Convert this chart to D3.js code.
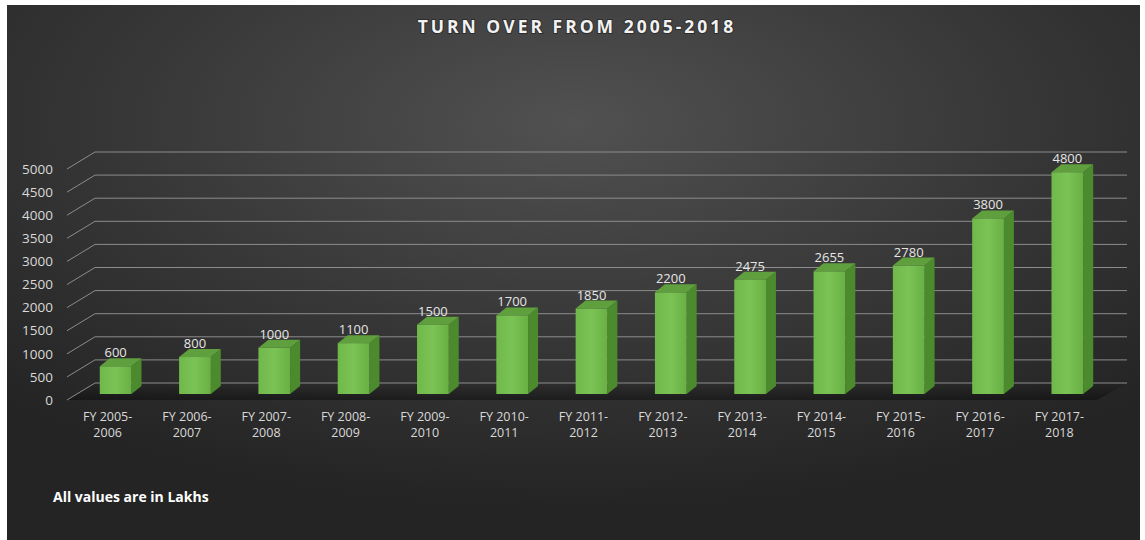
<!DOCTYPE html>
<html>
<head>
<meta charset="utf-8">
<script src="https://cdn.jsdelivr.net/npm/d3@7"></script>
<style>
  html, body { margin: 0; padding: 0; background: #ffffff; }
  svg { display: block; }
</style>
</head>
<body>
<script>
// chart data
var categories = ['FY 2005-2006', 'FY 2006-2007', 'FY 2007-2008', 'FY 2008-2009', 'FY 2009-2010',
    'FY 2010-2011', 'FY 2011-2012', 'FY 2012-2013', 'FY 2013-2014', 'FY 2014-2015',
    'FY 2015-2016', 'FY 2016-2017', 'FY 2017-2018'];
var turnover = [600, 800, 1000, 1100, 1500, 1700, 1850, 2200, 2475, 2655, 2780, 3800, 4800];
var yTicks = [0, 500, 1000, 1500, 2000, 2500, 3000, 3500, 4000, 4500, 5000];

var svgW = 1145, svgH = 540;
var font = "'Open Sans', 'DejaVu Sans', sans-serif";

//3d offsets (bar depth and back wall)
var depth = {dx: 10, dy: -8};
var wall = {dx: 28, dy: -17};

var svg = d3.select('body')
    .append('svg')
    .attr('width', svgW)
    .attr('height', svgH);

var defs = svg.append('defs');

var bg = defs.append('radialGradient')
    .attr('id', 'bg')
    .attr('cx', '50%').attr('cy', '22%').attr('r', '72%')
    .attr('fx', '50%').attr('fy', '22%');
bg.append('stop').attr('offset', '0%').attr('stop-color', '#515151');
bg.append('stop').attr('offset', '55%').attr('stop-color', '#373737');
bg.append('stop').attr('offset', '100%').attr('stop-color', '#242424');

var front = defs.append('linearGradient')
    .attr('id', 'front')
    .attr('x1', 0).attr('y1', 0).attr('x2', 1).attr('y2', 0);
front.append('stop').attr('offset', '0%').attr('stop-color', '#6fb84a');
front.append('stop').attr('offset', '50%').attr('stop-color', '#7cc356');
front.append('stop').attr('offset', '100%').attr('stop-color', '#68b043');

var floorShade = defs.append('linearGradient')
    .attr('id', 'floorShade')
    .attr('x1', 0).attr('y1', 0).attr('x2', 0).attr('y2', 1);
floorShade.append('stop').attr('offset', '0%').attr('stop-color', '#000').attr('stop-opacity', 0.05);
floorShade.append('stop').attr('offset', '100%').attr('stop-color', '#000').attr('stop-opacity', 0.4);

//background panel
svg.append('rect')
    .attr('x', 7)
    .attr('y', 5)
    .attr('width', 1133)
    .attr('height', 535)
    .style('fill', 'url(#bg)');

//scales
var x = d3.scaleBand()
    .domain(categories)
    .range([76, 1107])
    .paddingInner(0.6)
    .paddingOuter(0.3);

var y = d3.scaleLinear()
    .domain([0, 5000])
    .range([394, 163]);

var backLeft = 95, backRight = 1127;
var floorY = y(0);

//floor shadow
svg.append('polygon')
    .attr('points', [
        [backLeft - wall.dx, floorY + 6], [backLeft, floorY + wall.dy + 6],
        [backRight, floorY + wall.dy + 6], [backRight - 30, floorY + 6]
    ].map(function (p) { return p.join(','); }).join(' '))
    .style('fill', 'url(#floorShade)');

//gridlines on the back wall and the left side wall
var grid = svg.append('g').attr('class', 'grid');
grid.selectAll('line.back')
    .data(yTicks)
    .enter()
    .append('line')
    .attr('class', 'back')
    .attr('x1', backLeft)
    .attr('x2', backRight)
    .attr('y1', function (d) { return y(d) + 6 + wall.dy; })
    .attr('y2', function (d) { return y(d) + 6 + wall.dy; })
    .style('stroke', '#8c8c8c')
    .style('stroke-width', 1);

grid.selectAll('line.side')
    .data(yTicks)
    .enter()
    .append('line')
    .attr('class', 'side')
    .attr('x1', backLeft - wall.dx)
    .attr('x2', backLeft)
    .attr('y1', function (d) { return y(d) + 6; })
    .attr('y2', function (d) { return y(d) + 6 + wall.dy; })
    .style('stroke', '#8c8c8c')
    .style('stroke-width', 1);

//y axis labels
svg.append('g')
    .selectAll('text')
    .data(yTicks)
    .enter()
    .append('text')
    .attr('x', 53)
    .attr('y', function (d) { return y(d) + 6; })
    .attr('dy', '0.35em')
    .attr('text-anchor', 'end')
    .text(function (d) { return d; })
    .style('font-family', font)
    .style('font-size', '13.5px')
    .style('fill', '#d9d9d9');

//bars
var bars = svg.append('g')
    .selectAll('g.bar')
    .data(turnover)
    .enter()
    .append('g')
    .attr('class', 'bar');

function pts(arr) {
    return arr.map(function (p) { return p.join(','); }).join(' ');
}

//side face
bars.append('polygon')
    .attr('points', function (d, i) {
        var x1 = x(categories[i]) + x.bandwidth();
        return pts([[x1, y(d)], [x1 + depth.dx, y(d) + depth.dy],
            [x1 + depth.dx, floorY + depth.dy], [x1, floorY]]);
    })
    .style('fill', '#4b8a2d');

//top face
bars.append('polygon')
    .attr('points', function (d, i) {
        var x0 = x(categories[i]), x1 = x0 + x.bandwidth();
        return pts([[x0, y(d)], [x1, y(d)],
            [x1 + depth.dx, y(d) + depth.dy], [x0 + depth.dx, y(d) + depth.dy]]);
    })
    .style('fill', '#5f9f3e');

//front face
bars.append('rect')
    .attr('x', function (d, i) { return x(categories[i]); })
    .attr('y', function (d) { return y(d); })
    .attr('width', x.bandwidth())
    .attr('height', function (d) { return floorY - y(d); })
    .style('fill', 'url(#front)');

//value labels
bars.append('text')
    .attr('x', function (d, i) { return x(categories[i]) + x.bandwidth() / 2; })
    .attr('y', function (d) { return y(d) - 9; })
    .attr('text-anchor', 'middle')
    .text(function (d) { return d; })
    .style('font-family', font)
    .style('font-size', '13px')
    .style('fill', '#e6e6e6');

//category labels on two lines
var catLabels = svg.append('g')
    .selectAll('text')
    .data(categories)
    .enter()
    .append('text')
    .attr('x', function (d) { return x(d) + x.bandwidth() / 2 - 8; })
    .attr('y', 421)
    .attr('text-anchor', 'middle')
    .style('font-family', font)
    .style('font-size', '12.5px')
    .style('fill', '#d9d9d9');

catLabels.append('tspan')
    .text(function (d) { return d.split('-')[0] + '-'; });
catLabels.append('tspan')
    .attr('x', function (d) { return x(d) + x.bandwidth() / 2 - 8; })
    .attr('dy', 16)
    .text(function (d) { return d.split('-')[1]; });

//title
svg.append('text')
    .attr('x', 577)
    .attr('y', 33)
    .attr('text-anchor', 'middle')
    .text('TURN OVER FROM 2005-2018')
    .style('font-family', font)
    .style('font-size', '17.5px')
    .style('font-weight', 'bold')
    .style('letter-spacing', '3px')
    .style('fill', '#f2f2f2')
    .style('paint-order', 'stroke')
    .style('stroke', 'rgba(0,0,0,0.35)')
    .style('stroke-width', 2);

//note
svg.append('text')
    .attr('x', 53)
    .attr('y', 502)
    .text('All values are in Lakhs')
    .style('font-family', font)
    .style('font-size', '14px')
    .style('font-weight', 'bold')
    .style('fill', '#ffffff');
</script>
</body>
</html>
